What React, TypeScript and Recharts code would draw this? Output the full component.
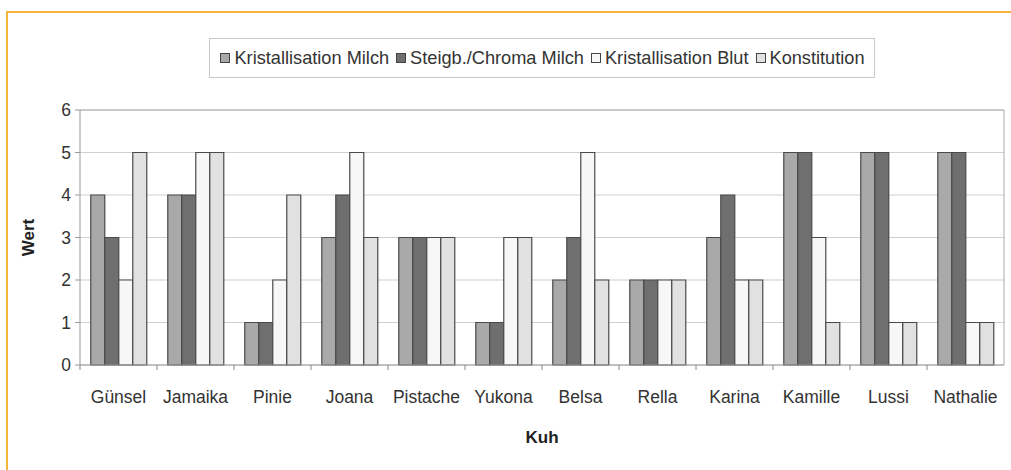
import React from 'react';
import { BarChart, Bar, XAxis, YAxis, CartesianGrid, Legend } from 'recharts';

const cows = ['Günsel', 'Jamaika', 'Pinie', 'Joana', 'Pistache', 'Yukona', 'Belsa', 'Rella', 'Karina', 'Kamille', 'Lussi', 'Nathalie'];
const kristMilch = [4, 4, 1, 3, 3, 1, 2, 2, 3, 5, 5, 5];
const steigbChroma = [3, 4, 1, 4, 3, 1, 3, 2, 4, 5, 5, 5];
const kristBlut = [2, 5, 2, 5, 3, 3, 5, 2, 2, 3, 1, 1];
const konstitution = [5, 5, 4, 3, 3, 3, 2, 2, 2, 1, 1, 1];
const yTicks = [0, 1, 2, 3, 4, 5, 6];

const seriesNames = ['Kristallisation Milch', 'Steigb./Chroma Milch', 'Kristallisation Blut', 'Konstitution'];
const seriesKeys = ['km', 'sc', 'kb', 'ko'];
const seriesColors = ['#a9a9a9', '#6f6f6f', '#f7f7f7', '#e1e1e1'];

const data = cows.map((c, i) => ({
  name: c,
  km: kristMilch[i],
  sc: steigbChroma[i],
  kb: kristBlut[i],
  ko: konstitution[i],
}));

const FONT = '"Liberation Sans", Arial, sans-serif';
const W = 1011;
const H = 470;
const PLOT_TOP = 110;
const PLOT_BOTTOM = 365;
const LEGEND_H = 40;
const XH = 80;
const YW = 80;
const M = { top: PLOT_TOP - LEGEND_H, right: 7, bottom: H - PLOT_BOTTOM - XH, left: 0 };

const LegendBox = () => (
  <div style={{ display: 'flex', justifyContent: 'center' }}>
    <div
      style={{
        display: 'inline-flex',
        alignItems: 'center',
        height: 38,
        border: '1px solid #c8c8c8',
        padding: '0 9px 0 10px',
        fontFamily: FONT,
        fontSize: 18.2,
        color: '#333',
        background: '#fff',
        whiteSpace: 'nowrap',
        boxSizing: 'content-box',
      }}
    >
      {seriesNames.map((n, i) => (
        <span key={n} style={{ display: 'inline-flex', alignItems: 'center', marginRight: i < 3 ? 7 : 0 }}>
          <span
            style={{
              display: 'inline-block',
              width: 8,
              height: 8,
              background: seriesColors[i],
              border: '1px solid #444',
              marginRight: 4,
            }}
          />
          {n}
        </span>
      ))}
    </div>
  </div>
);

const XTick = (props: any) => {
  const { x, y, payload } = props;
  const band = (W - YW - M.left - M.right) / cows.length;
  return (
    <g>
      <line x1={x - band / 2} y1={y - 8} x2={x - band / 2} y2={y - 3} stroke="#888" />
      <text x={x} y={y + 30} textAnchor="middle" fontFamily={FONT} fontSize={17.5} fill="#333">
        {payload.value}
      </text>
    </g>
  );
};

export default function App() {
  return (
    <div style={{ position: 'absolute', left: 0, top: 0, width: W, height: H, overflow: 'hidden', background: '#fff' }}>
      <div
        style={{
          position: 'absolute',
          left: 6,
          top: 11,
          width: 1200,
          height: 700,
          border: '2px solid #f7b43a',
          boxSizing: 'border-box',
        }}
      />
      <div style={{ position: 'absolute', left: 0, top: 0 }}>
        <BarChart width={W} height={H} data={data} margin={M} barCategoryGap="14%" barGap={0}>
          <CartesianGrid stroke="#cfcfcf" vertical={false} />
          <XAxis
            dataKey="name"
            height={XH}
            tick={<XTick />}
            tickLine={false}
            axisLine={{ stroke: '#999' }}
            interval={0}
            label={{ value: 'Kuh', position: 'insideBottom', offset: 2, style: { fontFamily: FONT, fontSize: 17, fontWeight: 'bold', fill: '#222' } }}
          />
          <YAxis
            width={YW}
            domain={[0, 6]}
            ticks={yTicks}
            interval={0}
            axisLine={{ stroke: '#999' }}
            tickLine={{ stroke: '#999' }}
            tickSize={5}
            tickMargin={4}
            tick={{ fontFamily: FONT, fontSize: 17.5, fill: '#333' }}
            label={{ value: 'Wert', angle: -90, position: 'insideLeft', offset: 28, style: { fontFamily: FONT, fontSize: 17, fontWeight: 'bold', fill: '#222', textAnchor: 'middle' } }}
          />
          <Legend verticalAlign="top" content={<LegendBox />} wrapperStyle={{ top: 38, left: 80, width: 924 }} />
          {seriesKeys.map((k, i) => (
            <Bar key={k} dataKey={k} name={seriesNames[i]} fill={seriesColors[i]} stroke="#4a4a4a" strokeWidth={1.2} isAnimationActive={false} />
          ))}
        </BarChart>
      </div>
      <svg style={{ position: 'absolute', left: 0, top: 0, pointerEvents: 'none' }} width={W} height={H}>
        <line x1={YW} y1={PLOT_TOP} x2={W - M.right} y2={PLOT_TOP} stroke="#aaa" />
        <line x1={W - M.right} y1={PLOT_TOP} x2={W - M.right} y2={PLOT_BOTTOM} stroke="#aaa" />
      </svg>
    </div>
  );
}
